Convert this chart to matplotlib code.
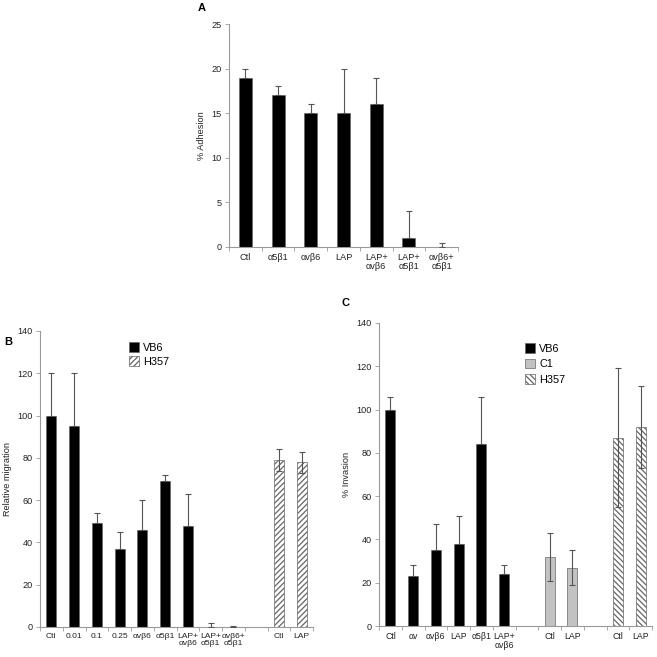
import numpy as np
import matplotlib
matplotlib.use("Agg")
import matplotlib.pyplot as plt

plt.rcParams['font.family'] = ['Liberation Sans', 'DejaVu Sans']
plt.rcParams['hatch.linewidth'] = 0.9

# ---- Panel A data ----
a_labels = ["Ctl", "α5β1", "αvβ6", "LAP", "LAP+\nαvβ6", "LAP+\nα5β1", "αvβ6+\nα5β1"]
a_values = [19, 17, 15, 15, 16, 1, 0]
a_err = [1, 1, 1, 5, 3, 3, 0.5]

# ---- Panel B data ----
b_labels = ["Ctl", "0.01", "0.1", "0.25", "αvβ6", "α5β1", "LAP+\nαvβ6", "LAP+\nα5β1",
            "αvβ6+\nα5β1", "", "Ctl", "LAP"]
b_vb6_values = [100, 95, 49, 37, 46, 69, 48, 0, 0]
b_vb6_err = [20, 25, 5, 8, 14, 3, 15, 2, 0.5]
b_h357_values = [79, 78]
b_h357_err = [5, 5]

# ---- Panel C data ----
c_labels = ["Ctl", "αv", "αvβ6", "LAP", "α5β1", "LAP+\nαvβ6", "", "Ctl", "LAP", "", "Ctl", "LAP"]
c_vb6_values = [100, 23, 35, 38, 84, 24]
c_vb6_err = [6, 5, 12, 13, 22, 4]
c_c1_values = [32, 27]
c_c1_err = [11, 8]
c_h357_values = [87, 92]
c_h357_err = [32, 19]

W = H = 657
fig = plt.figure(figsize=(6.57, 6.57), dpi=100)

def make_ax(left, top, right, bottom):
    return fig.add_axes([left / W, 1 - bottom / H, (right - left) / W, (bottom - top) / H])

AXC = '#9a9a9a'
ERRC = '#555555'
TFS = 6.6

def style(ax, n, labels, ymax, ystep, ylabel, xfs=TFS):
    for s in ['top', 'right']:
        ax.spines[s].set_visible(False)
    for s in ['left', 'bottom']:
        ax.spines[s].set_color(AXC)
        ax.spines[s].set_linewidth(0.8)
    ax.set_xlim(0, n)
    ax.set_ylim(0, ymax)
    ax.set_yticks(np.arange(0, ymax + 0.01, ystep))
    ax.set_xticks(np.arange(n) + 0.5)
    ax.set_xticklabels(labels, fontsize=xfs, linespacing=1.1)
    ax.set_xticks(np.arange(n + 1), minor=True)
    ax.tick_params(axis='x', which='major', length=0, pad=4, labelcolor='#222222')
    ax.tick_params(axis='x', which='minor', length=3, color=AXC, width=0.6)
    ax.tick_params(axis='y', length=3, color=AXC, width=0.6, labelsize=TFS, labelcolor='#222222', pad=2)
    ax.set_ylabel(ylabel, fontsize=TFS, color='#222222', labelpad=4)

def one_sided(ax, x, vals, errs, color, width, **kw):
    ax.bar(x, vals, width=width, color=color, edgecolor='#666666', linewidth=0.5, zorder=2, **kw)
    ax.errorbar(x, vals, yerr=[np.zeros(len(errs)), errs], fmt='none', ecolor=ERRC,
                elinewidth=0.8, capsize=2.0, capthick=0.8, zorder=3)

def two_sided(ax, x, vals, errs, color, width, **kw):
    ax.bar(x, vals, width=width, color=color, edgecolor='#666666', linewidth=0.5, zorder=2, **kw)
    ax.errorbar(x, vals, yerr=errs, fmt='none', ecolor=ERRC,
                elinewidth=0.8, capsize=2.0, capthick=0.8, zorder=3)

# Panel A
axA = make_ax(229, 24, 458, 247)
style(axA, len(a_labels), a_labels, 25, 5, "% Adhesion")
xa = np.arange(len(a_values)) + 0.5
one_sided(axA, xa, a_values, a_err, '#000000', 0.4)

# Panel B
axB = make_ax(40, 331, 313, 627)
style(axB, len(b_labels), b_labels, 140, 20, "Relative migration", xfs=6.1)
xb = np.arange(len(b_vb6_values)) + 0.5
one_sided(axB, xb, b_vb6_values, b_vb6_err, '#000000', 0.45, label='VB6')
xbh = np.arange(len(b_h357_values)) + 10.5
two_sided(axB, xbh, b_h357_values, b_h357_err, 'white', 0.45, hatch='//////', label='H357')
axB.legend(loc='upper left', bbox_to_anchor=(0.29, 0.995), frameon=False, fontsize=7.8,
           handlelength=0.9, handleheight=1.0, handletextpad=0.4, labelspacing=0.3)

# Panel C
axC = make_ax(379, 323, 652, 626)
style(axC, len(c_labels), c_labels, 140, 20, "% Invasion", xfs=6.3)
xc = np.arange(len(c_vb6_values)) + 0.5
one_sided(axC, xc, c_vb6_values, c_vb6_err, '#000000', 0.45, label='VB6')
xc1 = np.arange(len(c_c1_values)) + 7.5
two_sided(axC, xc1, c_c1_values, c_c1_err, '#c2c2c2', 0.45, label='C1')
xch = np.arange(len(c_h357_values)) + 10.5
two_sided(axC, xch, c_h357_values, c_h357_err, 'white', 0.45, hatch='\\\\\\\\\\\\', label='H357')
axC.legend(loc='upper left', bbox_to_anchor=(0.50, 0.965), frameon=False, fontsize=7.8,
           handlelength=0.9, handleheight=1.0, handletextpad=0.4, labelspacing=0.45)

# Panel letters
fig.text(202 / W, 1 - 8 / H, "A", fontsize=8, fontweight='bold', ha='center', va='center')
fig.text(8 / W, 1 - 342 / H, "B", fontsize=8, fontweight='bold', ha='center', va='center')
fig.text(345 / W, 1 - 303 / H, "C", fontsize=8, fontweight='bold', ha='center', va='center')

fig.savefig("out.png", dpi=100)
